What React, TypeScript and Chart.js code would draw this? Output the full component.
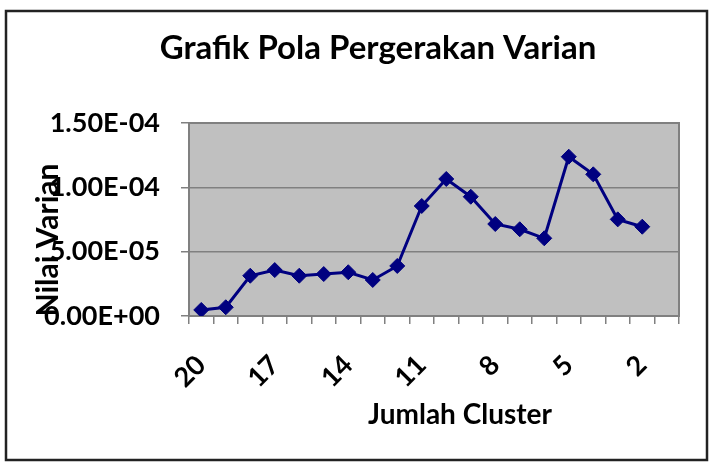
import React, { useEffect, useRef } from "react";
import { Chart, registerables } from "chart.js";

Chart.register(...registerables);

const chartTitle = "Grafik Pola Pergerakan Varian";
const xAxisTitle = "Jumlah Cluster";
const yAxisTitle = "Nilai Varian";
const categories = ["20", "19", "18", "17", "16", "15", "14", "13", "12", "11", "10", "9", "8", "7", "6", "5", "4", "3", "2", "1"];
const varianValues: (number | null)[] = [
  4.7e-6, 6.8e-6, 3.13e-5, 3.57e-5, 3.13e-5, 3.26e-5, 3.4e-5, 2.8e-5, 3.89e-5,
  8.55e-5, 1.065e-4, 9.27e-5, 7.15e-5, 6.74e-5, 6.04e-5, 1.238e-4, 1.101e-4, 7.51e-5, 6.94e-5, null,
];
const yMin = 0;
const yMax = 1.5e-4;
const yStep = 5e-5;
const labelEvery = 3;

const FONT = "Lato, 'Open Sans', sans-serif";

function sci(v: number): string {
  if (v === 0) return "0.00E+00";
  const exp = Math.floor(Math.log10(Math.abs(v)) + 1e-9);
  const mant = v / Math.pow(10, exp);
  const sign = exp < 0 ? "-" : "+";
  const e = Math.abs(exp).toString().padStart(2, "0");
  return mant.toFixed(2) + "E" + sign + e;
}

const framePlugin = {
  id: "frame",
  beforeDraw(chart: any) {
    const { ctx, chartArea: a } = chart;
    ctx.save();
    ctx.fillStyle = "#ffffff";
    ctx.fillRect(0, 0, chart.width, chart.height);
    ctx.fillStyle = "#c0c0c0";
    ctx.fillRect(a.left, a.top, a.right - a.left, a.bottom - a.top);
    ctx.restore();
  },
  beforeDatasetsDraw(chart: any) {
    const { ctx, chartArea: a } = chart;
    ctx.save();
    ctx.strokeStyle = "#808080";
    ctx.lineWidth = 2;
    ctx.strokeRect(a.left, a.top, a.right - a.left, a.bottom - a.top);
    ctx.restore();
  },
  afterDraw(chart: any) {
    const { ctx } = chart;
    ctx.save();
    // outer frame
    ctx.strokeStyle = "#222222";
    ctx.lineWidth = 2.5;
    ctx.strokeRect(6, 11, 701, 449);
    ctx.fillStyle = "#000000";
    ctx.textAlign = "center";
    ctx.textBaseline = "middle";
    ctx.font = `bold 33px ${FONT}`;
    ctx.fillText(chartTitle, 378, 48);
    ctx.font = `bold 28px ${FONT}`;
    ctx.fillText(xAxisTitle, 460, 415);
    ctx.translate(48, 240);
    ctx.rotate(-Math.PI / 2);
    ctx.font = `bold 30px ${FONT}`;
    ctx.fillText(yAxisTitle, 0, 0);
    ctx.restore();
  },
};

export default function App() {
  const ref = useRef<HTMLCanvasElement | null>(null);
  useEffect(() => {
    if (!ref.current) return;
    const chart = new Chart(ref.current, {
      type: "line",
      data: {
        labels: categories,
        datasets: [
          {
            label: yAxisTitle,
            data: varianValues,
            borderColor: "#000080",
            backgroundColor: "#000080",
            borderWidth: 3,
            pointStyle: "rectRot",
            pointRadius: 7.5,
            pointBackgroundColor: "#000080",
            pointBorderColor: "#000080",
            pointBorderWidth: 1,
            tension: 0,
          },
        ],
      },
      options: {
        animation: false,
        responsive: false,
        devicePixelRatio: 1,
        layout: { padding: { left: 0, right: 37, top: 123, bottom: 0 } },
        plugins: {
          legend: { display: false },
          title: { display: false },
          tooltip: { enabled: false },
        },
        scales: {
          x: {
            type: "category",
            offset: true,
            grid: {
              offset: true,
              drawOnChartArea: false,
              drawTicks: true,
              tickLength: 8,
              color: "#808080",
              lineWidth: 1.5,
            },
            border: { display: true, color: "#808080", width: 2 },
            ticks: {
              autoSkip: false,
              minRotation: 45,
              maxRotation: 45,
              padding: 25,
              color: "#000000",
              font: { family: FONT, size: 27, weight: "bold" },
              callback: (_v: any, i: number) => (i % labelEvery === 0 ? categories[i] : ""),
            },
            afterFit: (s: any) => {
              s.height = 148;
            },
          },
          y: {
            min: yMin,
            max: yMax,
            grid: {
              color: "#808080",
              lineWidth: 1.5,
              tickLength: 8,
            },
            border: { display: true, color: "#808080", width: 2 },
            ticks: {
              stepSize: yStep,
              padding: 21,
              color: "#000000",
              font: { family: FONT, size: 27, weight: "bold" },
              callback: (v: any) => sci(Number(v)),
            },
            afterFit: (s: any) => {
              s.width = 189;
            },
          },
        },
      },
      plugins: [framePlugin],
    });
    return () => chart.destroy();
  }, []);
  return (
    <div style={{ position: "absolute", left: 0, top: 0, width: 716, height: 464, background: "#fff" }}>
      <canvas ref={ref} width={716} height={464} style={{ display: "block", width: 716, height: 464 }} />
    </div>
  );
}
